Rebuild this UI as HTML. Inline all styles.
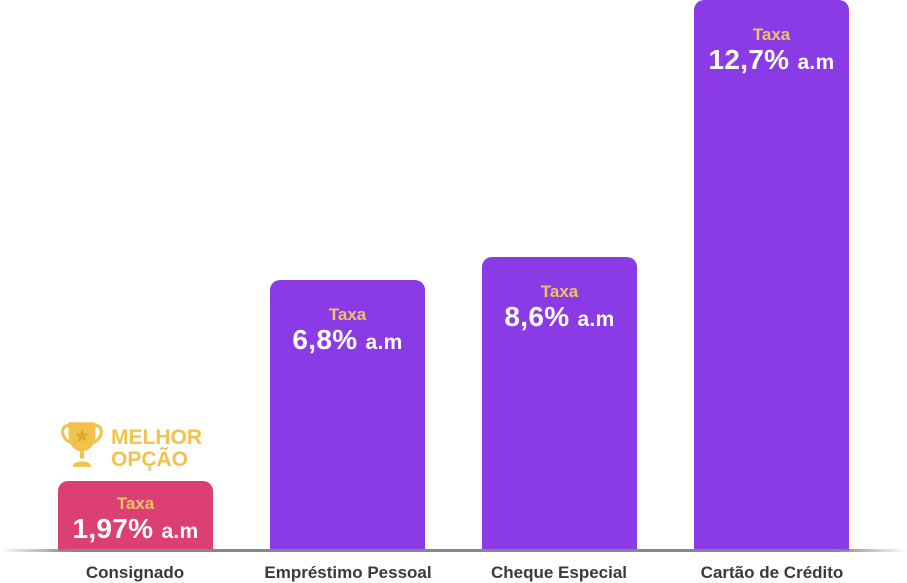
<!DOCTYPE html>
<html><head><meta charset="utf-8"><style>
body{margin:0;width:907px;height:582px;background:#fff;position:relative;overflow:hidden;font-family:"Liberation Sans",sans-serif;}
.bar{position:absolute;width:155px;bottom:31px;border-radius:10px 10px 0 0;background:#8a3be6;text-align:center;}
.t{color:#f0c266;font-weight:bold;font-size:17px;margin-top:26px;line-height:18px;}
.v{color:#fff;font-weight:bold;font-size:28px;line-height:32px;letter-spacing:0.3px}
.v small{font-size:21px}
.lbl{position:absolute;top:563px;width:200px;text-align:center;font-weight:bold;font-size:17px;color:#3a3a3a;}
.line{position:absolute;left:0;width:907px;top:549px;height:3px;background:linear-gradient(90deg,rgba(120,120,120,0),#888 8%,#888 92%,rgba(120,120,120,0));}
</style></head><body>
<div class="bar" style="left:58px;top:481px;background:#dc3f74"><div class="t" style="margin-top:14px">Taxa</div><div class="v">1,97% <small>a.m</small></div></div>
<div class="bar" style="left:270px;top:280px"><div class="t">Taxa</div><div class="v">6,8% <small>a.m</small></div></div>
<div class="bar" style="left:482px;top:257px"><div class="t">Taxa</div><div class="v">8,6% <small>a.m</small></div></div>
<div class="bar" style="left:694px;top:0px"><div class="t">Taxa</div><div class="v">12,7% <small>a.m</small></div></div>
<div class="line"></div>
<svg style="position:absolute;left:58px;top:414px" width="50" height="58" viewBox="0 0 48 56">
<path d="M10 8 H36 V20 C36 30 30 36 23 36 C16 36 10 30 10 20Z" fill="#f2c24e"/>
<path d="M10 11 C2 11 2 24 13 28 M36 11 C44 11 44 24 33 28" stroke="#f2c24e" stroke-width="3" fill="none"/>
<rect x="21" y="35" width="4" height="8" fill="#f2c24e"/><path d="M14 51 C14 44 32 44 32 51Z" fill="#f2c24e"/>
<polygon points="23,14 25,19 30,19 26,22 27,27 23,24 19,27 20,22 16,19 21,19" fill="#e0a730"/>
</svg>
<div style="position:absolute;left:111px;top:427px;color:#f2c24e;font-weight:bold;font-size:21px;line-height:22px;letter-spacing:0px">MELHOR<br>OPÇÃO</div>
<div class="lbl" style="left:35px">Consignado</div>
<div class="lbl" style="left:248px">Empréstimo Pessoal</div>
<div class="lbl" style="left:459px">Cheque Especial</div>
<div class="lbl" style="left:672px">Cartão de Crédito</div>
</body></html>
